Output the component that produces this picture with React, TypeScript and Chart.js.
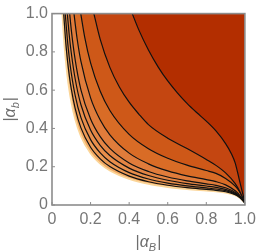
import React, { useEffect, useRef } from "react";
import { Chart, registerables } from "chart.js";
Chart.register(...registerables);

const xTickValues = [0, 0.2, 0.4, 0.6, 0.8, 1.0];
const xTickLabels = ["0", "0.2", "0.4", "0.6", "0.8", "1.0"];
const yTickValues = [0, 0.2, 0.4, 0.6, 0.8, 1.0];
const yTickLabels = ["0", "0.2", "0.4", "0.6", "0.8", "1.0"];

// Outer edge of the filled region
const edge = [[0.054,1],[0.06,0.9],[0.07,0.771],[0.08,0.675],[0.09,0.6],[0.1,0.54],[0.12,0.45],[0.15,0.36],[0.2,0.27],[0.25,0.216],[0.3,0.18],[0.4,0.136],[0.5,0.11],[0.6,0.094],[0.7,0.083],[0.8,0.075],[0.85,0.071],[0.9,0.065],[0.95,0.051],[0.975,0.036],[1.0,0.012]];
// Contour lines, outermost (8) to innermost (1)
const contour8 = [[0.0605,1],[0.07,0.8655],[0.08,0.758],[0.09,0.6737],[0.1,0.6066],[0.12,0.5049],[0.15,0.4029],[0.2,0.3019],[0.25,0.2411],[0.3,0.2006],[0.4,0.1509],[0.5,0.1216],[0.6,0.1032],[0.7,0.0906],[0.8,0.0813],[0.85,0.0766],[0.9,0.0694],[0.95,0.0535],[0.975,0.0373],[1.0,0.012]];
const contour7 = [[0.0686,1],[0.08,0.8615],[0.09,0.7655],[0.1,0.6894],[0.12,0.5733],[0.15,0.4563],[0.2,0.3416],[0.25,0.2723],[0.3,0.2262],[0.4,0.1693],[0.5,0.1359],[0.6,0.1147],[0.7,0.1],[0.8,0.0892],[0.85,0.0836],[0.9,0.0749],[0.95,0.0567],[0.975,0.039],[1.0,0.012]];
const contour6 = [[0.0794,1],[0.09,0.8814],[0.1,0.7941],[0.12,0.6596],[0.15,0.5238],[0.2,0.3918],[0.25,0.3118],[0.3,0.2585],[0.4,0.1927],[0.5,0.1541],[0.6,0.1293],[0.7,0.112],[0.8,0.0992],[0.85,0.0924],[0.9,0.0818],[0.95,0.0607],[0.975,0.041],[1.0,0.012]];
const contour5 = [[0.0916,1],[0.1,0.9151],[0.12,0.7594],[0.15,0.6018],[0.2,0.4498],[0.25,0.3574],[0.3,0.2959],[0.4,0.2197],[0.5,0.1751],[0.6,0.1461],[0.7,0.1258],[0.8,0.1107],[0.85,0.1026],[0.9,0.0898],[0.95,0.0653],[0.975,0.0434],[1.0,0.012]];
const contour4 = [[0.114,1],[0.12,0.949],[0.13,0.87],[0.15,0.75],[0.2,0.56],[0.25,0.444],[0.3,0.367],[0.4,0.271],[0.5,0.215],[0.6,0.178],[0.7,0.152],[0.8,0.1325],[0.85,0.122],[0.9,0.105],[0.95,0.074],[0.975,0.048],[1.0,0.012]];
const contour3 = [[0.149,1],[0.17,0.875],[0.2,0.743],[0.25,0.594],[0.3,0.494],[0.4,0.369],[0.5,0.294],[0.6,0.244],[0.7,0.208],[0.8,0.18],[0.85,0.165],[0.9,0.139],[0.95,0.099],[0.975,0.066],[1.0,0.012]];
const contour2 = [[0.217,1],[0.25,0.865],[0.3,0.719],[0.35,0.615],[0.4,0.537],[0.45,0.475],[0.5,0.42],[0.6,0.349],[0.7,0.295],[0.8,0.238],[0.85,0.207],[0.9,0.168],[0.95,0.112],[0.975,0.068],[1.0,0.012]];
const contour1 = [[0.416,1],[0.45,0.915],[0.5,0.81],[0.55,0.722],[0.6,0.648],[0.65,0.586],[0.7,0.531],[0.75,0.483],[0.8,0.438],[0.85,0.387],[0.9,0.321],[0.93,0.268],[0.95,0.219],[0.97,0.137],[0.985,0.075],[0.995,0.035],[1.0,0.012]];

const bandColors = ["#F1A863", "#EC9954", "#E88E4B", "#E48544", "#E07C3B", "#D96C26", "#CE5818", "#C44611", "#B32E00"];

const framePlugin = {
  id: "framePlugin",
  afterDatasetsDraw(chart: any) {
    const { ctx, chartArea } = chart;
    const xs = chart.scales.x;
    const ys = chart.scales.y;
    ctx.save();
    ctx.strokeStyle = "#8c8c8c";
    ctx.lineWidth = 1.6;
    ctx.strokeRect(chartArea.left, chartArea.top, chartArea.right - chartArea.left, chartArea.bottom - chartArea.top);
    ctx.lineWidth = 1;
    ctx.beginPath();
    xTickValues.forEach((v) => {
      const px = xs.getPixelForValue(v);
      ctx.moveTo(px, chartArea.bottom);
      ctx.lineTo(px, chartArea.bottom - 3);
    });
    yTickValues.forEach((v) => {
      const py = ys.getPixelForValue(v);
      ctx.moveTo(chartArea.left, py);
      ctx.lineTo(chartArea.left + 3, py);
    });
    ctx.stroke();
    ctx.restore();
  },
  afterDraw(chart: any) {
    const { ctx, chartArea } = chart;
    const drawTitle = (sub: string) => {
      const big = "16px 'Liberation Sans', Arial, sans-serif";
      const ital = "italic 16px 'Liberation Sans', Arial, sans-serif";
      const small = "italic 11px 'Liberation Sans', Arial, sans-serif";
      ctx.font = big; const w1 = ctx.measureText("|").width;
      ctx.font = ital; const w2 = ctx.measureText("α").width;
      ctx.font = small; const w3 = ctx.measureText(sub).width;
      const total = w1 * 2 + w2 + w3 + 1;
      let x = -total / 2;
      ctx.textBaseline = "alphabetic";
      ctx.textAlign = "left";
      ctx.fillStyle = "#6e6e6e";
      ctx.font = big; ctx.fillText("|", x, 0); x += w1;
      ctx.font = ital; ctx.fillText("α", x, 0); x += w2;
      ctx.font = small; ctx.fillText(sub, x, 4); x += w3 + 1;
      ctx.font = big; ctx.fillText("|", x, 0);
    };
    ctx.save();
    ctx.translate((chartArea.left + chartArea.right) / 2, 247);
    drawTitle("B");
    ctx.restore();
    ctx.save();
    ctx.translate(15, (chartArea.top + chartArea.bottom) / 2);
    ctx.rotate(-Math.PI / 2);
    drawTitle("b");
    ctx.restore();
  },
};

export default function App() {
  const ref = useRef<HTMLCanvasElement>(null);
  useEffect(() => {
    document.body.style.margin = "0";
    const curves = [edge, contour8, contour7, contour6, contour5, contour4, contour3, contour2, contour1];
    const datasets = curves.map((c, i) => ({
      data: c.map((p) => ({ x: p[0], y: p[1] })),
      borderColor: i === 0 ? "#FBD598" : "#111111",
      borderWidth: i === 0 ? 1.8 : 1.2,
      backgroundColor: bandColors[i],
      fill: "end",
      pointRadius: 0,
      cubicInterpolationMode: "monotone",
      order: 20 - i,
    }));
    const chart = new Chart(ref.current!, {
      type: "line",
      data: { datasets },
      plugins: [framePlugin],
      options: {
        responsive: false,
        animation: false,
        layout: { padding: { left: 8, right: 13, top: 10, bottom: 0 } },
        plugins: { legend: { display: false }, tooltip: { enabled: false } },
        scales: {
          x: {
            type: "linear",
            min: 0,
            max: 1,
            grid: { display: false, drawTicks: false },
            border: { display: false },
            afterBuildTicks: (s: any) => { s.ticks = xTickValues.map((v) => ({ value: v })); },
            afterFit: (s: any) => { s.height = 47; },
            ticks: {
              padding: 5,
              color: "#777777",
              font: { family: "'Liberation Sans', Arial, sans-serif", size: 16 },
              maxRotation: 0,
              callback: (v: any) => xTickLabels[xTickValues.indexOf(Number(v))] ?? "",
            },
          },
          y: {
            type: "linear",
            min: 0,
            max: 1,
            grid: { display: false, drawTicks: false },
            border: { display: false },
            afterBuildTicks: (s: any) => { s.ticks = yTickValues.map((v) => ({ value: v })); },
            afterFit: (s: any) => { s.width = 44; },
            ticks: {
              padding: 4,
              color: "#777777",
              font: { family: "'Liberation Sans', Arial, sans-serif", size: 16 },
              callback: (v: any) => yTickLabels[yTickValues.indexOf(Number(v))] ?? "",
            },
          },
        },
      } as any,
    });
    return () => chart.destroy();
  }, []);
  return <canvas ref={ref} width={261} height={252} style={{ display: "block" }} />;
}
